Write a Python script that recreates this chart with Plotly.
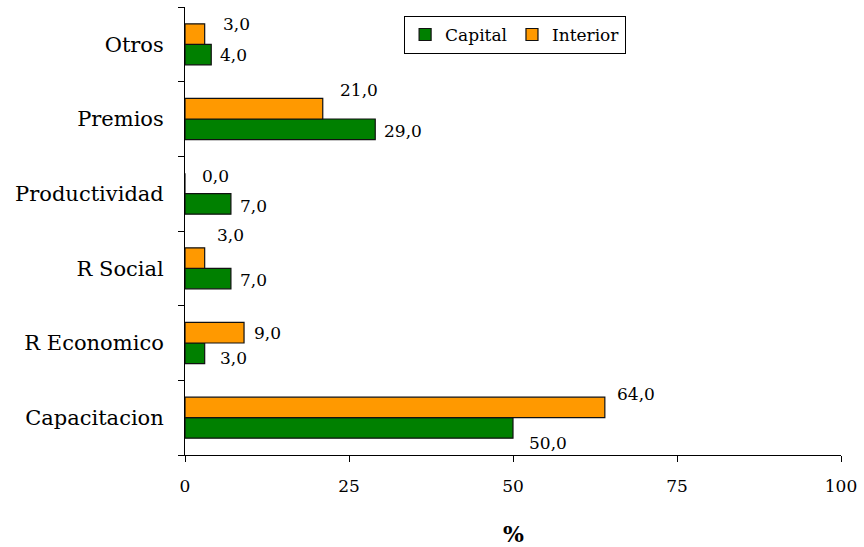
import plotly.graph_objects as go

# Categories listed bottom to top
categorias = ["Capacitacion", "R Economico", "R Social", "Productividad", "Premios", "Otros"]
capital = [50.0, 3.0, 7.0, 7.0, 29.0, 4.0]
interior = [64.0, 9.0, 3.0, 0.0, 21.0, 3.0]
x_ticks = [0, 25, 50, 75, 100]

# Label nudges in pixels (dx right of bar end, dy below bar centre)
interior_dx = [10, 8, 10, 15, 15, 16]
interior_dy = [-13, 0, -23, -7, -19, -10]
capital_dx = [14, 13, 7, 7, 7, 7]
capital_dy = [15, 5, 1, 2, 2, 0]

FONT = "DejaVu Serif"
GREEN = "#008000"
ORANGE = "#FF9900"
BARGAP = 0.45

fig = go.Figure()
fig.add_trace(go.Bar(
    y=categorias, x=capital, orientation="h", name="Capital",
    marker=dict(color=GREEN, line=dict(color="#111111", width=1.2)),
))
fig.add_trace(go.Bar(
    y=categorias, x=interior, orientation="h", name="Interior",
    marker=dict(color=ORANGE, line=dict(color="#111111", width=1.2)),
))


def fmt(v):
    return f"{v:.1f}".replace(".", ",")


half = (1 - BARGAP) / 4  # offset of each bar centre from the category centre
annotations = []
for i, cat in enumerate(categorias):
    annotations.append(dict(
        x=capital[i], y=i - half, xref="x", yref="y", text=fmt(capital[i]),
        showarrow=False, xanchor="left", yanchor="middle",
        xshift=capital_dx[i], yshift=-capital_dy[i],
        font=dict(family=FONT, size=17, color="black"),
    ))
    annotations.append(dict(
        x=interior[i], y=i + half, xref="x", yref="y", text=fmt(interior[i]),
        showarrow=False, xanchor="left", yanchor="middle",
        xshift=interior_dx[i], yshift=-interior_dy[i],
        font=dict(family=FONT, size=17, color="black"),
    ))

annotations.append(dict(
    x=0.5, y=0, xref="paper", yref="paper", text="<b>%</b>",
    showarrow=False, xanchor="center", yanchor="middle", yshift=-79,
    font=dict(family=FONT, size=22, color="black"),
))

fig.update_layout(
    width=864, height=547,
    margin=dict(l=185, r=19, t=7, b=92),
    paper_bgcolor="white", plot_bgcolor="white",
    barmode="group", bargap=BARGAP, bargroupgap=0,
    font=dict(family=FONT, color="black"),
    annotations=annotations,
    showlegend=True,
    legend=dict(
        orientation="h", x=0.334, y=0.98, xanchor="left", yanchor="top",
        bordercolor="black", borderwidth=1, bgcolor="white",
        font=dict(family=FONT, size=17, color="black"),
        itemwidth=30, traceorder="normal",
    ),
    xaxis=dict(
        range=[0, 100], tickvals=x_ticks, ticktext=[str(t) for t in x_ticks],
        showgrid=False, zeroline=False,
        showline=True, linecolor="black", linewidth=1,
        ticks="outside", ticklen=6, tickcolor="black",
        tickfont=dict(family=FONT, size=17, color="black"),
        ticklabelstandoff=10,
    ),
    yaxis=dict(
        type="category", categoryorder="array", categoryarray=categorias,
        range=[-0.5, len(categorias) - 0.5],
        showgrid=False, zeroline=False,
        showline=True, linecolor="black", linewidth=1,
        ticks="outside", ticklen=6, tickcolor="black", tickson="boundaries",
        tickfont=dict(family=FONT, size=21, color="black"),
        ticklabelstandoff=16,
    ),
)

fig.write_html("out.html")
